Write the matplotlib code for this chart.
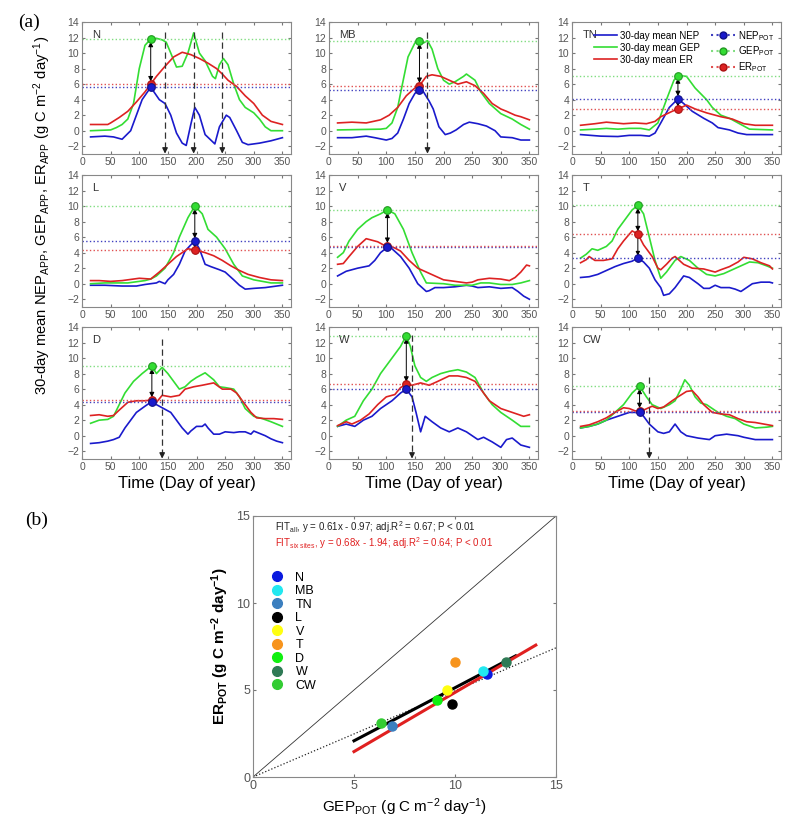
import matplotlib
matplotlib.use('Agg')
import matplotlib.pyplot as plt
from matplotlib.lines import Line2D

plt.rcParams['font.family'] = ['Liberation Sans', 'DejaVu Sans']
plt.rcParams['mathtext.fontset'] = 'custom'
plt.rcParams['mathtext.rm'] = 'Liberation Sans'
plt.rcParams['mathtext.it'] = 'Liberation Sans:italic'
plt.rcParams['mathtext.bf'] = 'Liberation Sans:bold'
plt.rcParams['mathtext.default'] = 'regular'

# ---- (a) 30-day mean curves ----
N_NEP_D = [15, 40, 55, 70, 85, 95, 105, 120, 135, 145, 155, 165, 175, 182, 190, 197, 205, 215, 232, 240, 252, 258, 270, 280, 290, 310, 330, 350]
N_NEP = [-0.8, -0.7, -0.8, -1.1, 0.0, 2.0, 4.0, 5.6, 4.0, 3.5, 2.0, -0.3, -1.6, -1.9, 0.8, 3.0, 2.0, -0.5, -1.7, 0.5, 2.0, 1.7, 0.0, -1.5, -1.8, -1.6, -1.3, -0.9]
N_GEP_D = [15, 50, 60, 70, 80, 90, 100, 110, 120, 130, 140, 147, 155, 165, 175, 185, 195, 205, 215, 228, 233, 240, 247, 255, 265, 275, 285, 300, 310, 320, 330, 350]
N_GEP = [0.0, 0.1, 0.4, 0.8, 1.5, 3.5, 8.0, 11.0, 11.8, 11.9, 11.7, 11.4, 10.0, 8.2, 8.3, 10.0, 12.6, 10.0, 9.0, 7.0, 6.7, 8.5, 9.3, 8.5, 6.0, 4.0, 3.0, 2.3, 1.5, 0.5, 0.0, 0.0]
N_ER_D = [15, 45, 50, 65, 80, 95, 110, 120, 130, 145, 160, 175, 190, 205, 220, 235, 245, 255, 270, 285, 300, 315, 330, 350]
N_ER = [0.8, 0.8, 1.0, 1.7, 2.5, 3.7, 5.0, 6.0, 7.0, 8.3, 9.5, 10.1, 9.8, 9.3, 8.7, 8.0, 7.3, 6.5, 5.7, 4.5, 3.5, 2.0, 1.2, 0.8]

MB_NEP_D = [15, 40, 65, 80, 100, 110, 120, 130, 140, 150, 158, 165, 175, 182, 192, 203, 212, 222, 235, 245, 260, 275, 290, 300, 320, 335, 350]
MB_NEP = [-0.9, -0.9, -0.7, -0.9, -1.2, -1.0, -0.3, 1.5, 3.5, 4.8, 5.3, 5.0, 3.8, 2.8, 0.5, -0.5, -0.3, 0.1, 0.8, 1.1, 0.9, 0.6, 0.0, -0.8, -0.9, -1.2, -1.2]
MB_GEP_D = [15, 90, 100, 110, 120, 126, 138, 150, 158, 165, 172, 180, 190, 200, 210, 220, 235, 240, 255, 265, 280, 300, 320, 335, 350]
MB_GEP = [0.1, 0.2, 0.3, 1.0, 3.0, 5.2, 9.5, 11.3, 11.6, 11.3, 11.6, 10.5, 8.0, 6.5, 6.0, 6.3, 7.0, 7.3, 6.5, 5.0, 3.5, 2.2, 1.5, 0.8, 0.2]
MB_ER_D = [15, 40, 65, 90, 105, 120, 135, 150, 158, 170, 180, 195, 210, 225, 240, 255, 270, 285, 300, 310, 325, 335, 350]
MB_ER = [1.0, 1.1, 1.0, 1.4, 2.0, 3.0, 4.5, 5.5, 5.8, 7.0, 7.2, 7.0, 6.5, 6.0, 6.3, 5.8, 4.8, 3.5, 2.8, 2.5, 2.0, 1.8, 1.4]

TN_NEP_D = [15, 50, 80, 100, 120, 135, 145, 155, 170, 185, 195, 210, 230, 245, 255, 275, 290, 305, 330, 350]
TN_NEP = [-0.5, -0.7, -0.75, -0.6, -0.6, -0.7, -0.3, 1.0, 3.0, 4.1, 3.5, 2.5, 1.6, 1.0, 0.4, 0.1, -0.3, -0.5, -0.5, -0.5]
TN_GEP_D = [15, 40, 60, 80, 100, 120, 135, 150, 165, 178, 185, 200, 215, 235, 245, 260, 275, 295, 310, 350]
TN_GEP = [0.1, 0.2, 0.3, 0.2, 0.3, 0.3, 0.1, 1.0, 4.0, 6.5, 7.1, 7.0, 5.5, 4.0, 3.0, 2.0, 1.6, 0.8, 0.2, 0.1]
TN_ER_D = [15, 40, 60, 90, 110, 130, 145, 155, 175, 185, 200, 215, 235, 260, 280, 300, 320, 350]
TN_ER = [0.7, 0.9, 1.1, 0.9, 1.0, 0.9, 1.2, 1.8, 2.5, 2.8, 3.3, 2.8, 2.3, 1.8, 1.5, 0.9, 0.7, 0.7]

L_NEP_D = [15, 40, 70, 95, 110, 120, 130, 135, 145, 150, 160, 170, 180, 190, 197, 205, 215, 225, 240, 250, 265, 275, 285, 300, 320, 340, 350]
L_NEP = [-0.2, -0.2, -0.3, -0.3, -0.1, 0.0, 0.1, 0.3, 0.0, 0.5, 1.2, 2.5, 4.2, 5.0, 5.5, 4.5, 2.5, 2.2, 1.8, 1.5, 0.5, -0.2, -0.7, -0.6, -0.5, -0.3, -0.2]
L_GEP_D = [15, 40, 80, 110, 120, 130, 145, 160, 170, 185, 197, 210, 220, 235, 250, 265, 280, 300, 330, 350]
L_GEP = [0.0, 0.1, 0.1, 0.4, 0.6, 1.0, 2.0, 4.0, 6.0, 8.5, 10.0, 9.0, 7.0, 6.0, 4.5, 2.5, 1.0, 0.5, 0.1, 0.1]
L_ER_D = [15, 30, 50, 70, 90, 100, 120, 135, 150, 165, 185, 200, 215, 230, 245, 260, 275, 290, 310, 330, 350]
L_ER = [0.4, 0.4, 0.3, 0.4, 0.6, 0.7, 0.6, 1.5, 2.5, 3.5, 4.5, 4.3, 4.0, 3.6, 3.0, 2.3, 1.7, 1.2, 0.8, 0.5, 0.4]

V_NEP_D = [15, 30, 50, 70, 80, 90, 102, 110, 125, 140, 155, 170, 175, 185, 200, 220, 240, 250, 260, 280, 300, 320, 330, 340, 350]
V_NEP = [1.0, 1.6, 2.0, 2.3, 3.0, 4.0, 4.7, 4.5, 3.5, 2.0, 0.0, -1.0, -0.9, -0.5, -0.5, -0.4, -0.2, -0.3, -0.5, -0.4, -0.6, -0.5, -1.0, -1.6, -2.0]
V_GEP_D = [15, 25, 35, 50, 65, 75, 90, 102, 115, 130, 145, 160, 170, 200, 220, 250, 265, 280, 300, 320, 335, 350]
V_GEP = [3.4, 4.0, 5.5, 7.0, 8.0, 8.5, 9.0, 9.5, 9.0, 7.0, 4.0, 1.5, 0.1, 0.0, -0.2, -0.2, 0.1, 0.1, -0.1, -0.1, 0.1, 0.4]
V_ER_D = [15, 25, 35, 50, 65, 75, 85, 95, 102, 115, 125, 140, 155, 170, 185, 200, 220, 240, 250, 260, 280, 300, 315, 325, 335, 345, 350]
V_ER = [2.5, 2.6, 3.5, 4.8, 5.8, 5.6, 5.4, 5.0, 4.9, 4.6, 4.2, 3.0, 2.0, 1.5, 1.0, 0.5, 0.3, 0.1, 0.2, 0.5, 0.7, 0.6, 0.4, 0.8, 1.5, 2.4, 2.3]

T_NEP_D = [15, 30, 45, 60, 75, 90, 105, 115, 125, 135, 145, 155, 160, 170, 180, 190, 195, 205, 220, 230, 240, 250, 260, 275, 285, 295, 305, 315, 330, 345, 350]
T_NEP = [0.8, 0.9, 1.2, 1.7, 2.2, 2.6, 2.9, 3.3, 2.8, 2.0, 0.5, -0.5, -1.5, -1.3, -0.5, 0.5, 1.0, 0.8, 0.0, -0.6, -0.6, -0.2, -0.5, -0.5, -0.7, -1.0, -0.5, 0.0, 0.2, 0.2, 0.1]
T_GEP_D = [15, 25, 35, 45, 60, 70, 80, 95, 105, 115, 125, 135, 145, 155, 165, 180, 190, 205, 220, 235, 250, 265, 280, 295, 310, 325, 340, 350]
T_GEP = [3.3, 3.8, 4.5, 4.3, 4.8, 5.5, 7.0, 8.5, 9.5, 10.1, 9.0, 6.0, 3.0, 0.7, 1.5, 3.0, 3.5, 3.0, 2.0, 1.2, 1.0, 1.3, 1.8, 2.3, 2.8, 2.7, 2.3, 2.0]
T_ER_D = [15, 25, 30, 40, 55, 70, 80, 90, 105, 115, 125, 140, 150, 155, 165, 175, 180, 195, 210, 230, 250, 260, 275, 290, 300, 315, 330, 345, 350]
T_ER = [2.7, 3.1, 3.5, 3.0, 3.0, 3.2, 4.5, 5.5, 6.8, 6.4, 5.0, 3.5, 2.0, 1.8, 2.5, 3.3, 3.5, 2.5, 2.0, 1.9, 1.5, 1.8, 2.2, 2.8, 3.4, 3.2, 2.7, 2.3, 1.9]

D_NEP_D = [15, 30, 45, 55, 65, 75, 85, 95, 110, 122, 130, 140, 155, 165, 175, 185, 190, 200, 210, 215, 220, 230, 240, 250, 265, 275, 285, 295, 300, 310, 320, 330, 340, 350]
D_NEP = [-1.0, -0.9, -0.7, -0.5, -0.2, 1.0, 2.0, 3.0, 3.8, 4.4, 4.0, 3.6, 3.0, 2.0, 1.0, 0.2, 0.6, 1.2, 1.2, 1.5, 1.0, 0.2, 0.2, 0.5, 0.4, 0.5, 0.5, 0.2, 0.6, 0.3, 0.0, -0.4, -0.7, -0.9]
D_GEP_D = [15, 30, 45, 55, 65, 75, 90, 105, 122, 130, 140, 150, 160, 170, 180, 190, 200, 215, 230, 240, 250, 265, 275, 285, 300, 315, 330, 350]
D_GEP = [1.6, 2.0, 2.1, 2.5, 4.0, 5.5, 7.0, 8.0, 9.0, 8.0, 8.8, 8.0, 7.0, 6.0, 6.3, 7.0, 7.5, 8.1, 7.2, 6.3, 6.2, 6.0, 5.0, 3.5, 2.5, 2.2, 1.8, 1.2]
D_ER_D = [15, 30, 45, 55, 65, 80, 95, 110, 122, 130, 140, 155, 170, 180, 195, 210, 230, 245, 260, 270, 280, 295, 305, 320, 335, 350]
D_ER = [2.6, 2.7, 2.5, 2.6, 3.3, 4.3, 4.5, 4.5, 4.6, 4.3, 5.2, 5.0, 5.2, 6.0, 6.3, 6.5, 6.8, 6.0, 6.0, 5.5, 4.5, 3.0, 2.3, 2.2, 2.2, 2.1]

W_NEP_D = [15, 30, 45, 60, 75, 90, 110, 125, 135, 145, 152, 160, 168, 180, 195, 210, 225, 240, 250, 260, 270, 285, 300, 310, 320, 335, 350]
W_NEP = [1.2, 1.5, 1.2, 2.0, 2.5, 3.5, 4.5, 5.5, 6.0, 5.0, 3.0, 0.5, 2.5, 1.8, 1.0, 0.5, 1.0, 0.5, 0.0, -0.5, -0.2, -0.8, -1.5, -0.5, -0.3, -1.2, -1.5]
W_GEP_D = [15, 30, 45, 60, 75, 90, 105, 115, 125, 135, 142, 150, 160, 170, 180, 195, 210, 225, 240, 255, 270, 285, 300, 320, 335, 350]
W_GEP = [1.2, 2.0, 2.5, 4.5, 6.0, 8.0, 9.5, 10.5, 11.5, 12.9, 11.5, 9.0, 7.5, 7.0, 7.5, 8.0, 8.3, 8.5, 8.2, 7.5, 5.5, 4.0, 3.0, 2.0, 1.2, 1.2]
W_ER_D = [15, 30, 40, 55, 70, 85, 100, 115, 125, 135, 145, 160, 175, 190, 210, 225, 240, 255, 265, 280, 300, 320, 340, 350]
W_ER = [1.3, 1.8, 1.5, 2.0, 2.8, 4.0, 5.0, 5.3, 6.2, 6.6, 6.5, 6.8, 6.5, 7.0, 7.7, 7.7, 7.5, 7.0, 6.0, 4.5, 3.5, 3.0, 2.5, 2.7]

CW_NEP_D = [15, 30, 45, 60, 80, 100, 118, 125, 135, 150, 160, 170, 180, 190, 200, 220, 240, 250, 270, 290, 300, 320, 350]
CW_NEP = [1.0, 1.2, 1.5, 2.0, 2.5, 3.0, 3.0, 2.5, 1.5, 0.5, 0.3, 0.5, 1.5, 0.5, 0.0, -0.3, -0.5, 0.0, 0.2, 0.0, -0.2, -0.5, -0.5]
CW_GEP_D = [15, 30, 45, 60, 75, 90, 105, 118, 130, 140, 155, 170, 180, 190, 197, 205, 215, 225, 235, 245, 255, 270, 285, 300, 320, 340, 350]
CW_GEP = [1.0, 1.2, 1.5, 2.0, 3.0, 4.0, 5.5, 6.4, 5.0, 4.0, 3.5, 4.0, 4.5, 6.0, 7.2, 6.5, 5.0, 4.2, 4.0, 3.5, 3.0, 2.5, 2.2, 1.5, 1.0, 1.1, 1.2]
CW_ER_D = [15, 30, 45, 60, 75, 90, 100, 110, 118, 125, 140, 150, 160, 175, 185, 200, 210, 220, 230, 245, 260, 275, 290, 305, 320, 335, 350]
CW_ER = [1.2, 1.4, 1.8, 2.3, 3.0, 3.6, 3.5, 3.2, 3.2, 3.3, 3.8, 3.5, 3.7, 4.5, 5.0, 5.7, 5.8, 5.0, 4.0, 3.0, 2.8, 2.7, 2.2, 1.8, 1.7, 1.5, 1.3]

SITES = ['N', 'MB', 'TN', 'L', 'V', 'T', 'D', 'W', 'CW']
GEP_POT = [11.8, 11.6, 7.1, 10.0, 9.5, 10.1, 9.0, 12.9, 6.4]
ER_POT = [6.0, 5.8, 2.8, 4.3, 4.9, 6.4, 4.6, 6.6, 3.2]
NEP_POT = [5.6, 5.3, 4.1, 5.5, 4.7, 3.3, 4.4, 6.0, 3.0]
POT_DAY = [120, 158, 185, 197, 102, 115, 122, 135, 118]
DASH_DAYS = [[145, 195, 245], [172], [], [], [], [], [140], [145], [135]]
DASH_TOP = [12.7, 12.7, 0, 0, 0, 0, 12.5, 13.0, 7.5]

# ---- (b) scatter ----
SC_GEP = [11.6, 11.4, 6.9, 9.85, 9.6, 10.0, 9.1, 12.5, 6.35]
SC_ER = [5.9, 6.1, 2.95, 4.2, 5.0, 6.6, 4.4, 6.6, 3.1]
SC_COLORS = ['#0a1adf', '#22e8f0', '#3b7fbf', '#000000', '#ffff10', '#f7941d', '#10f010', '#2f7a55', '#33cc33']
FIT_ALL = (0.61, -0.97, 5, 13)
FIT_SIX = (0.68, -1.94, 5, 14)
ORIGIN_SLOPE = 0.495

C_NEP, C_GEP, C_ER = '#1a1acc', '#33dd33', '#dd2222'
C_NEP_DOT, C_GEP_DOT, C_ER_DOT = '#4040c0', '#80dd80', '#e05050'

panels = [
    (N_NEP_D, N_NEP, N_GEP_D, N_GEP, N_ER_D, N_ER),
    (MB_NEP_D, MB_NEP, MB_GEP_D, MB_GEP, MB_ER_D, MB_ER),
    (TN_NEP_D, TN_NEP, TN_GEP_D, TN_GEP, TN_ER_D, TN_ER),
    (L_NEP_D, L_NEP, L_GEP_D, L_GEP, L_ER_D, L_ER),
    (V_NEP_D, V_NEP, V_GEP_D, V_GEP, V_ER_D, V_ER),
    (T_NEP_D, T_NEP, T_GEP_D, T_GEP, T_ER_D, T_ER),
    (D_NEP_D, D_NEP, D_GEP_D, D_GEP, D_ER_D, D_ER),
    (W_NEP_D, W_NEP, W_GEP_D, W_GEP, W_ER_D, W_ER),
    (CW_NEP_D, CW_NEP, CW_GEP_D, CW_GEP, CW_ER_D, CW_ER),
]

W, H = 800, 824
fig = plt.figure(figsize=(8, 8.24), dpi=100)

col_left = [82, 329, 572]
row_top = [22, 175, 327]
pw, ph = 209, 132


def style_axes(ax, labelsize=7.5):
    ax.tick_params(direction='in', length=2.5, labelsize=labelsize, labelcolor='#555555',
                   color='#777777', top=True, right=True, pad=2)
    for s in ax.spines.values():
        s.set_color('#888888')
        s.set_linewidth(0.8)


for i, site in enumerate(SITES):
    r, c = divmod(i, 3)
    ax = fig.add_axes([col_left[c] / W, 1 - (row_top[r] + ph) / H, pw / W, ph / H])
    nd, nv, gd, gv, ed, ev = panels[i]
    ax.plot(nd, nv, color=C_NEP, lw=1.2)
    ax.plot(gd, gv, color=C_GEP, lw=1.2)
    ax.plot(ed, ev, color=C_ER, lw=1.2)
    ax.axhline(NEP_POT[i], ls=':', color=C_NEP_DOT, lw=1.0)
    ax.axhline(GEP_POT[i], ls=':', color=C_GEP_DOT, lw=1.0)
    ax.axhline(ER_POT[i], ls=':', color=C_ER_DOT, lw=1.0)

    d = POT_DAY[i]
    upper = max(ER_POT[i], NEP_POT[i])
    lower = min(ER_POT[i], NEP_POT[i])
    ax.annotate('', xy=(d, upper + 0.35), xytext=(d, GEP_POT[i] - 0.35),
                arrowprops=dict(arrowstyle='<|-|>', color='k', lw=0.7, mutation_scale=7, shrinkA=0, shrinkB=0))
    if upper - lower > 0.8:
        ax.annotate('', xy=(d, lower + 0.3), xytext=(d, upper - 0.3),
                    arrowprops=dict(arrowstyle='-|>', color='k', lw=0.7, mutation_scale=6, shrinkA=0, shrinkB=0))

    for dd in DASH_DAYS[i]:
        ax.plot([dd, dd], [DASH_TOP[i], -2.4], ls=(0, (5, 3)), color='#333333', lw=0.9)
        ax.annotate('', xy=(dd, -2.95), xytext=(dd, -2.3),
                    arrowprops=dict(arrowstyle='-|>', color='#222222', lw=0.9, mutation_scale=8, shrinkA=0, shrinkB=0))

    ax.plot(d, GEP_POT[i], 'o', ms=5.5, mfc=C_GEP, mec='#229922', mew=0.8, zorder=5)
    ax.plot(d, ER_POT[i], 'o', ms=5.5, mfc=C_ER, mec='#aa1111', mew=0.8, zorder=5)
    ax.plot(d, NEP_POT[i], 'o', ms=5.5, mfc=C_NEP, mec='#111188', mew=0.8, zorder=5)

    ax.set_xlim(0, 365)
    ax.set_ylim(-3, 14)
    ax.set_xticks(range(0, 351, 50))
    ax.set_yticks(range(-2, 15, 2))
    style_axes(ax)
    ax.text(0.05, 0.9, site, transform=ax.transAxes, fontsize=8, color='#333333', va='center')
    if r == 2:
        ax.set_xlabel('Time (Day of year)', fontsize=12, labelpad=3)

    if site == 'TN':
        handles = [
            Line2D([], [], color=C_NEP, lw=1.2),
            Line2D([], [], color=C_GEP, lw=1.2),
            Line2D([], [], color=C_ER, lw=1.2),
            Line2D([], [], color=C_NEP_DOT, ls=':', marker='o', ms=5, mfc=C_NEP, mec='#111188'),
            Line2D([], [], color=C_GEP_DOT, ls=':', marker='o', ms=5, mfc=C_GEP, mec='#229922'),
            Line2D([], [], color=C_ER_DOT, ls=':', marker='o', ms=5, mfc=C_ER, mec='#aa1111'),
        ]
        labels = ['30-day mean NEP', '30-day mean GEP', '30-day mean ER',
                  'NEP$_{POT}$', 'GEP$_{POT}$', 'ER$_{POT}$']
        ax.legend(handles, labels, ncol=2, loc='upper right', bbox_to_anchor=(1.0, 1.0),
                  frameon=False, fontsize=7, handlelength=2.4, handletextpad=0.3,
                  columnspacing=1.2, labelspacing=0.2, borderaxespad=0.3)

fig.text(42 / W, 1 - 215 / H,
         '30-day mean NEP$_{APP}$, GEP$_{APP}$, ER$_{APP}$ (g C m$^{-2}$ day$^{-1}$)',
         rotation=90, ha='center', va='center', fontsize=10.6)
fig.text(18 / W, 1 - 22 / H, '(a)', family='Liberation Serif', fontsize=14, va='center')
fig.text(25 / W, 1 - 520 / H, '(b)', family='Liberation Serif', fontsize=14, va='center')

# ---- panel (b) ----
bx = fig.add_axes([253 / W, 1 - 777 / H, 303 / W, 261 / H])
bx.plot([0, 15], [0, 15], color='#333333', lw=0.6)
bx.plot([0, 15], [0, 15 * ORIGIN_SLOPE], color='#222222', lw=0.9, ls=':')
a, b, x0, x1 = FIT_ALL
bx.plot([x0, x1], [a * x0 + b, a * x1 + b], color='k', lw=2.2)
a, b, x0, x1 = FIT_SIX
bx.plot([x0, x1], [a * x0 + b, a * x1 + b], color='#e02020', lw=2.2)

handles = []
for g, e, col, s in zip(SC_GEP, SC_ER, SC_COLORS, SITES):
    bx.plot(g, e, 'o', ms=6.5, color=col, mec=col, zorder=5)
    handles.append(Line2D([], [], ls='none', marker='o', ms=7, color=col))
bx.legend(handles, SITES, loc='upper left', bbox_to_anchor=(0.0, 0.83), frameon=False,
          fontsize=9, labelspacing=0.12, handletextpad=0.5, borderaxespad=0.5)

bx.text(1.1, 14.35, 'FIT$_{all}$, y = 0.61x - 0.97; adj.R$^2$ = 0.67; P < 0.01', fontsize=7, color='#222222', va='center')
bx.text(1.1, 13.45, 'FIT$_{six\\ sites}$, y = 0.68x - 1.94; adj.R$^2$ = 0.64; P < 0.01', fontsize=7, color='#e02020', va='center')

bx.set_xlim(0, 15)
bx.set_ylim(0, 15)
bx.set_xticks([0, 5, 10, 15])
bx.set_yticks([0, 5, 10, 15])
style_axes(bx, labelsize=9)
bx.set_xlabel('GEP$_{POT}$ (g C m$^{-2}$ day$^{-1}$)', fontsize=11, labelpad=3)
bx.set_ylabel('ER$_{POT}$ (g C m$^{-2}$ day$^{-1}$)', fontsize=11, fontweight='bold', labelpad=4)

fig.savefig('out.png', dpi=100)
